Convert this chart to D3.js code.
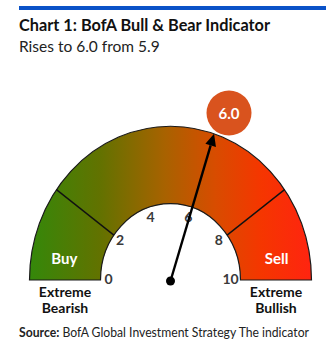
<!DOCTYPE html>
<html>
<head>
<meta charset="utf-8">
<script src="https://cdn.jsdelivr.net/npm/d3@7"></script>
<style>
  html, body { margin: 0; padding: 0; background: #fff; }
  svg { display: block; font-family: Lato, "Open Sans", sans-serif; }
</style>
</head>
<body>
<div id="chart"></div>
<script>
// Gauge data
const currentValue = 6.0;
const previousValue = 5.9;
const scaleTicks = [0, 2, 4, 6, 8, 10];
const zoneBreaks = [2, 8];
const zoneLabels = ["Buy", "Sell"];
const zoneLabelValues = [0.6, 9.4];
const endLabels = [["Extreme", "Bearish"], ["Extreme", "Bullish"]];

const width = 336, height = 341;
const cx = 170.5, cy = 280;
const rInner = 70, rOuter = 141, yStretch = 1.09;

const svg = d3.select("#chart").append("svg")
    .attr("width", width)
    .attr("height", height);

// Top rule
svg.append("rect")
    .attr("x", 19).attr("y", 6)
    .attr("width", 307).attr("height", 4)
    .attr("fill", "#0a52c8");

// Titles
svg.append("text")
    .attr("x", 19).attr("y", 31)
    .attr("font-size", "16.3px").attr("font-weight", 700)
    .attr("fill", "#111")
    .text("Chart 1: BofA Bull & Bear Indicator");

svg.append("text")
    .attr("x", 19).attr("y", 52)
    .attr("font-size", "15.5px").attr("font-weight", 400)
    .attr("fill", "#222")
    .text(`Rises to ${currentValue.toFixed(1)} from ${previousValue.toFixed(1)}`);

// Angle scale (d3 convention: 0 = up, clockwise)
const angle = d3.scaleLinear().domain([0, 10]).range([-Math.PI / 2, Math.PI / 2]);
const pt = (v, r, ry) => [cx + r * Math.sin(angle(v)), cy - (ry || r * yStretch) * Math.cos(angle(v))];

// Gradient
const defs = svg.append("defs");
const grad = defs.append("linearGradient")
    .attr("id", "gaugeGrad")
    .attr("gradientUnits", "userSpaceOnUse")
    .attr("x1", -rOuter).attr("x2", rOuter).attr("y1", 0).attr("y2", 0);
[["0%", "#34880a"], ["25%", "#627200"], ["48%", "#a86200"], ["66%", "#d84c00"], ["82%", "#f53600"], ["100%", "#ff2410"]]
    .forEach(([o, c]) => grad.append("stop").attr("offset", o).attr("stop-color", c));

const g = svg.append("g")
    .attr("transform", `translate(${cx},${cy}) scale(1,${yStretch})`);

const arc = d3.arc()
    .innerRadius(rInner)
    .outerRadius(rOuter)
    .startAngle(angle(0))
    .endAngle(angle(10));

g.append("path")
    .attr("d", arc())
    .attr("fill", "url(#gaugeGrad)")
    .attr("stroke", "#1a1a1a")
    .attr("stroke-width", 1.2)
    .attr("vector-effect", "non-scaling-stroke");

// Zone separators
svg.selectAll(".zone-line")
    .data(zoneBreaks)
    .enter().append("line")
    .attr("class", "zone-line")
    .attr("x1", d => pt(d, rInner)[0]).attr("y1", d => pt(d, rInner)[1])
    .attr("x2", d => pt(d, rOuter)[0]).attr("y2", d => pt(d, rOuter)[1])
    .attr("stroke", "#111").attr("stroke-width", 1.4);

// Tick labels
svg.selectAll(".tick-label")
    .data(scaleTicks)
    .enter().append("text")
    .attr("class", "tick-label")
    .attr("x", d => pt(d, 61, 65)[0] - 1)
    .attr("y", d => pt(d, 61, 65)[1] - 2)
    .attr("text-anchor", "middle")
    .attr("dominant-baseline", "central")
    .attr("font-size", "14px").attr("font-weight", 700)
    .attr("fill", "#3a3a3a")
    .text(d => d);

// Zone labels
svg.selectAll(".zone-label")
    .data(zoneLabels)
    .enter().append("text")
    .attr("class", "zone-label")
    .attr("x", (d, i) => pt(zoneLabelValues[i], 108)[0])
    .attr("y", (d, i) => pt(zoneLabelValues[i], 108)[1])
    .attr("text-anchor", "middle")
    .attr("dominant-baseline", "central")
    .attr("font-size", "15px").attr("font-weight", 700)
    .attr("fill", "#fff")
    .text(d => d);

// Extreme labels
endLabels.forEach((lines, i) => {
    const x = i ? 276 : 65;
    const t = svg.append("text")
        .attr("text-anchor", "middle")
        .attr("font-size", "14px").attr("font-weight", 700)
        .attr("fill", "#111");
    lines.forEach((l, j) => t.append("tspan").attr("x", x).attr("y", 297 + j * 16).text(l));
});

// Needle
const tip = pt(currentValue, rOuter);
const base = [cx, cy + 1];
const ang = Math.atan2(tip[1] - base[1], tip[0] - base[0]);
const headLen = 12, headW = 5.5;
const neck = [tip[0] - headLen * Math.cos(ang), tip[1] - headLen * Math.sin(ang)];

svg.append("line")
    .attr("x1", base[0]).attr("y1", base[1])
    .attr("x2", neck[0]).attr("y2", neck[1])
    .attr("stroke", "#000").attr("stroke-width", 2.4);

svg.append("path")
    .attr("d", d3.line()([
        tip,
        [neck[0] + headW * Math.sin(ang), neck[1] - headW * Math.cos(ang)],
        [neck[0] - headW * Math.sin(ang), neck[1] + headW * Math.cos(ang)]
    ]) + "Z")
    .attr("fill", "#000");

svg.append("circle")
    .attr("cx", base[0]).attr("cy", base[1])
    .attr("r", 4.5).attr("fill", "#000");

// Value badge
svg.append("circle")
    .attr("cx", 229).attr("cy", 113).attr("r", 22.5)
    .attr("fill", "#d9531e");

svg.append("text")
    .attr("x", 229).attr("y", 113)
    .attr("text-anchor", "middle")
    .attr("dominant-baseline", "central")
    .attr("font-size", "15px").attr("font-weight", 700)
    .attr("fill", "#fff")
    .text(currentValue.toFixed(1));

// Source
const src = svg.append("text")
    .attr("x", 19).attr("y", 337)
    .attr("font-size", "13px")
    .attr("fill", "#222")
    .attr("textLength", 290)
    .attr("lengthAdjust", "spacingAndGlyphs");
src.append("tspan").attr("font-weight", 700).text("Source:");
src.append("tspan").attr("font-weight", 400).text(" BofA Global Investment Strategy The indicator");
</script>
</body>
</html>
